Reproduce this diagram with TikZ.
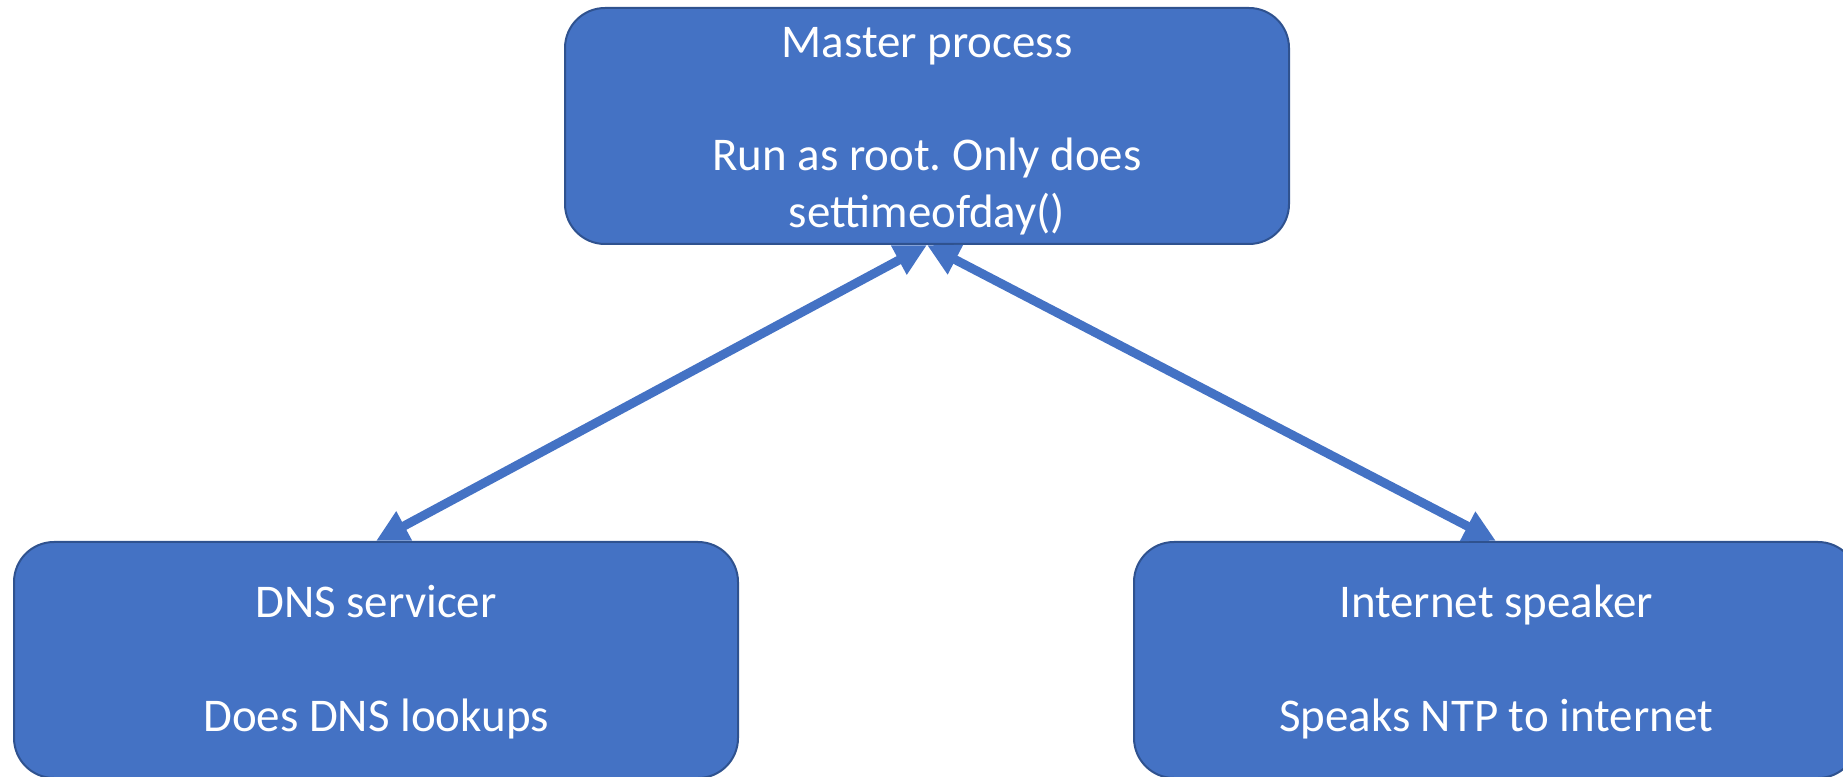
\documentclass[tikz,border=0pt]{standalone}
\usepackage{fontspec}
\setmainfont{Carlito}
\frenchspacing
\usetikzlibrary{arrows.meta}

\definecolor{procblue}{HTML}{4472C4}
\definecolor{procedge}{HTML}{2F528F}

\begin{document}
\begin{tikzpicture}[
    proc/.style={draw=procedge, line width=0.04cm, fill=procblue,
                 rounded corners=0.8cm, minimum width=14.48cm, minimum height=4.72cm,
                 inner sep=0pt, text=white, align=center,
                 font=\fontsize{26.7pt}{32.4pt}\selectfont},
    talk/.style={draw=procblue, line width=0.18cm,
                 {Triangle[width=0.62cm,length=0.64cm]}-{Triangle[width=0.62cm,length=0.64cm]}}]
    \useasboundingbox (0,0) rectangle (36.86,-15.54);
    % the three processes (the struts push the text a bit down)
    \node[proc] (master) at (18.54,-2.52)
         {\rule{0pt}{23pt}Master process\\[32.4pt]Run as root. Only does\\settimeofday()};
    \node[proc] (dns)    at (7.52,-13.2)
         {\rule{0pt}{21pt}DNS servicer\\[32.4pt]Does DNS lookups};
    \node[proc] (inet)   at (29.92,-13.2)
         {\rule{0pt}{21pt}Internet speaker\\[32.4pt]Speaks NTP to internet};
    % both helpers talk to the master
    \draw[talk] (dns.north)  -- (master.south);
    \draw[talk] (inet.north) -- (master.south);
\end{tikzpicture}
\end{document}
